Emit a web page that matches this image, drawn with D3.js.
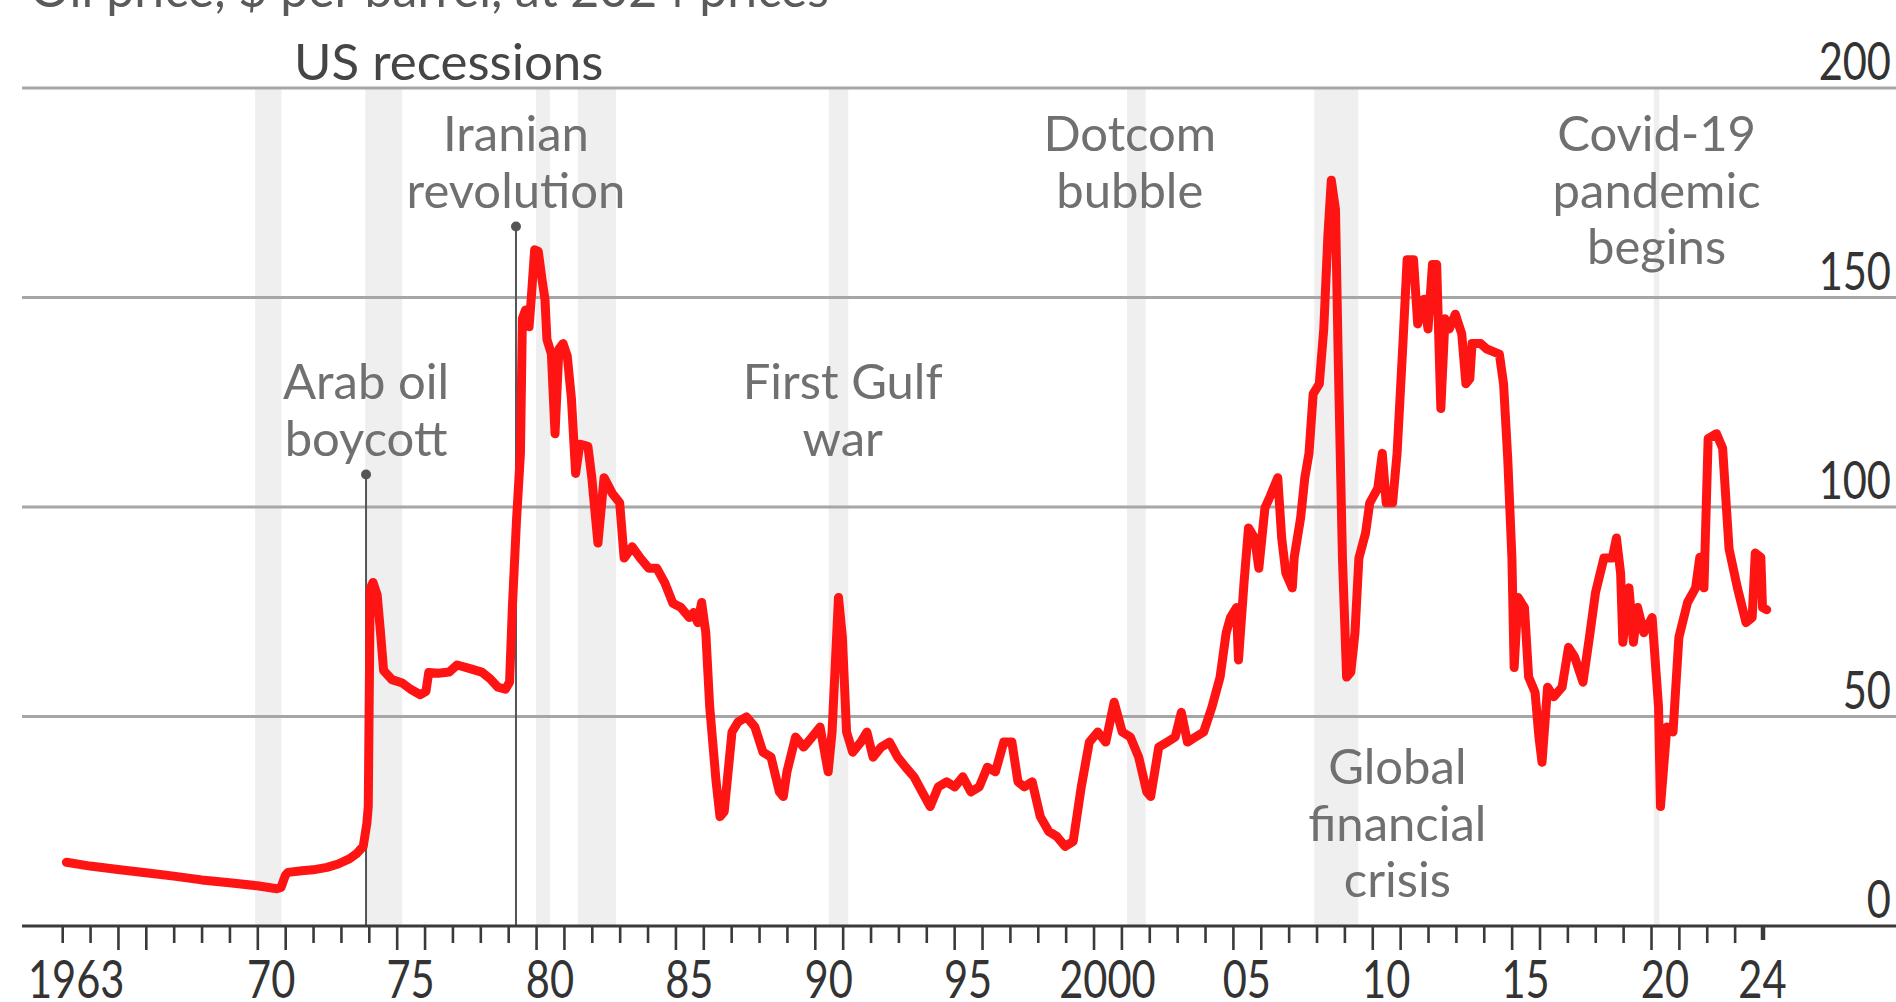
<!DOCTYPE html>
<html>
<head>
<meta charset="utf-8">
<script src="https://cdn.jsdelivr.net/npm/d3@7"></script>
<style>
  html, body { margin: 0; padding: 0; background: #ffffff; }
  svg { display: block; }
</style>
</head>
<body>
<svg id="chart" width="1896" height="1002"></svg>
<script>
// Oil price, $ per barrel (real terms), sampled at decimal-year dates
const years = [
  1963.15, 1964.0, 1965.0, 1966.0, 1967.0, 1968.0, 1969.0, 1970.0, 1970.7, 1970.85,
  1971.0, 1971.1, 1971.6, 1972.0, 1972.5, 1972.9, 1973.3, 1973.55, 1973.8, 1973.93,
  1973.98, 1974.05, 1974.15, 1974.3, 1974.42, 1974.53, 1974.83, 1975.2, 1975.5, 1975.85,
  1976.05, 1976.15, 1976.5, 1976.88, 1977.17, 1977.6, 1978.05, 1978.35, 1978.63, 1978.9,
  1979.05, 1979.15, 1979.3, 1979.44, 1979.51, 1979.62, 1979.75, 1979.83, 1979.95, 1980.08,
  1980.22, 1980.32, 1980.39, 1980.55, 1980.68, 1980.82, 1980.97, 1981.12, 1981.27, 1981.42,
  1981.57, 1981.86, 1982.0, 1982.22, 1982.44, 1982.73, 1983.0, 1983.16, 1983.45, 1983.74,
  1984.04, 1984.33, 1984.62, 1984.91, 1985.2, 1985.5, 1985.65, 1985.8, 1985.94, 1986.09,
  1986.23, 1986.46, 1986.6, 1986.75, 1986.89, 1987.03, 1987.25, 1987.55, 1987.85, 1988.14,
  1988.43, 1988.73, 1988.87, 1989.0, 1989.31, 1989.6, 1989.9, 1990.19, 1990.48, 1990.62,
  1990.85, 1990.99, 1991.14, 1991.36, 1991.65, 1991.87, 1992.09, 1992.38, 1992.68, 1992.97,
  1993.26, 1993.56, 1993.85, 1994.14, 1994.43, 1994.73, 1995.02, 1995.31, 1995.6, 1995.9,
  1996.19, 1996.48, 1996.78, 1997.07, 1997.29, 1997.51, 1997.8, 1998.09, 1998.39, 1998.68,
  1998.98, 1999.27, 1999.56, 1999.85, 2000.15, 2000.44, 2000.74, 2001.03, 2001.32, 2001.62,
  2001.91, 2002.05, 2002.34, 2002.64, 2002.93, 2003.15, 2003.37, 2003.66, 2003.95, 2004.25,
  2004.54, 2004.76, 2004.91, 2005.13, 2005.2, 2005.4, 2005.56, 2005.78, 2005.93, 2006.15,
  2006.3, 2006.61, 2006.75, 2006.9, 2007.13, 2007.2, 2007.43, 2007.58, 2007.73, 2007.88,
  2008.1, 2008.26, 2008.41, 2008.53, 2008.68, 2008.78, 2008.93, 2009.08, 2009.23, 2009.38,
  2009.52, 2009.76, 2009.91, 2010.2, 2010.36, 2010.5, 2010.73, 2010.89, 2011.1, 2011.25,
  2011.48, 2011.63, 2011.86, 2012.0, 2012.16, 2012.31, 2012.46, 2012.61, 2012.76, 2012.98,
  2013.21, 2013.36, 2013.5, 2013.58, 2013.89, 2014.11, 2014.56, 2014.71, 2014.86, 2015.01,
  2015.09, 2015.23, 2015.46, 2015.61, 2015.84, 2015.98, 2016.09, 2016.29, 2016.51, 2016.81,
  2017.04, 2017.26, 2017.56, 2017.79, 2018.01, 2018.31, 2018.61, 2018.76, 2018.91, 2018.99,
  2019.21, 2019.37, 2019.52, 2019.74, 2020.04, 2020.27, 2020.34, 2020.57, 2020.79, 2021.0,
  2021.31, 2021.6, 2021.75, 2021.9, 2022.05, 2022.35, 2022.57, 2022.8, 2023.1, 2023.41,
  2023.63, 2023.74, 2023.94, 2024.0, 2024.15
];
const prices = [
  15.2, 14.3, 13.5, 12.7, 11.9, 11.0, 10.3, 9.6, 8.9, 9.2,
  12.0, 12.8, 13.2, 13.4, 14.0, 14.8, 16.0, 17.2, 19.0, 24.5,
  28.5, 80.5, 82.0, 79.0, 70.0, 61.0, 58.8, 58.0, 56.5, 55.2,
  56.0, 60.5, 60.3, 60.6, 62.3, 61.5, 60.6, 59.0, 57.0, 56.5,
  58.2, 76.0, 97.0, 112.8, 145.0, 147.0, 143.0, 150.0, 161.4, 161.0,
  154.0, 149.6, 140.0, 136.5, 117.5, 137.7, 139.0, 136.0, 125.8, 108.0,
  115.0, 114.5, 107.0, 91.4, 107.0, 103.3, 101.0, 87.8, 90.5, 87.8,
  85.4, 85.4, 81.9, 77.0, 76.0, 73.6, 74.8, 72.4, 77.2, 70.0,
  52.3, 34.4, 26.1, 27.3, 36.8, 46.3, 48.7, 49.9, 47.5, 41.5,
  40.3, 32.0, 30.9, 36.8, 45.1, 42.7, 45.1, 47.5, 36.8, 46.3,
  78.4, 68.9, 46.3, 41.5, 43.9, 46.3, 40.3, 42.7, 43.9, 40.3,
  37.9, 35.6, 32.0, 28.5, 33.2, 34.4, 33.2, 35.6, 32.0, 33.2,
  37.9, 36.8, 43.9, 43.9, 34.4, 33.2, 34.4, 26.1, 22.6, 21.4,
  19.0, 20.2, 33.2, 43.9, 46.3, 43.9, 53.4, 46.3, 45.1, 40.3,
  32.0, 30.9, 42.7, 43.9, 45.1, 51.0, 43.9, 45.1, 46.3, 52.3,
  59.4, 70.0, 73.6, 76.0, 63.5, 82.0, 95.0, 92.6, 85.4, 99.8,
  102.0, 107.0, 92.6, 84.2, 80.7, 88.0, 97.4, 107.0, 112.8, 127.0,
  129.4, 142.5, 165.0, 178.0, 171.0, 135.0, 87.8, 59.4, 60.6, 70.0,
  87.8, 93.8, 101.0, 104.5, 112.8, 101.0, 101.0, 112.8, 139.0, 159.0,
  159.0, 143.7, 149.6, 142.5, 157.9, 157.9, 123.5, 144.9, 142.5, 146.0,
  141.3, 129.4, 130.6, 139.0, 139.0, 137.7, 136.5, 129.4, 111.6, 87.8,
  61.7, 78.4, 76.0, 59.4, 55.8, 45.1, 39.1, 57.0, 54.7, 57.0,
  66.5, 64.2, 58.2, 68.9, 79.6, 87.8, 87.8, 92.6, 84.2, 67.7,
  80.7, 67.7, 76.0, 70.0, 73.6, 52.3, 28.5, 47.5, 46.3, 68.9,
  77.2, 80.7, 88.0, 80.7, 116.3, 117.5, 114.0, 90.0, 80.7, 72.4,
  73.6, 89.0, 88.0, 76.0, 75.5
];

// US recessions (NBER), decimal years
const recessionStart = [1969.92, 1973.87, 1980.0, 1981.5, 1990.5, 2001.2, 2007.92, 2020.1];
const recessionEnd   = [1970.87, 1975.2, 1980.5, 1982.87, 1991.2, 2001.87, 2009.5, 2020.3];

// Event annotations (text lines, the date each block is centred on, whether it has a pointer)
const eventLabels = [
  ["Arab oil", "boycott"],
  ["Iranian", "revolution"],
  ["First Gulf", "war"],
  ["Dotcom", "bubble"],
  ["Global", "financial", "crisis"],
  ["Covid-19", "pandemic", "begins"]
];
const eventYears    = [1973.9, 1979.28, 1991.0, 2001.3, 2010.9, 2020.2];
const eventPointer  = [true, true, false, false, false, false];
const eventBaseline = [399, 151, 399, 151, 784, 151];

// Axis ticks
const yTicks = [0, 50, 100, 150, 200];
const xLabelYears = [1963, 1970, 1975, 1980, 1985, 1990, 1995, 2000, 2005, 2010, 2015, 2020, 2024];
const xLabelText  = ["1963", "70", "75", "80", "85", "90", "95", "2000", "05", "10", "15", "20", "24"];

const W = 1896, H = 1002;
const svg = d3.select("#chart");

const x = d3.scaleLinear().domain([1963, 2024]).range([62.2, 1762.5]);
const y = d3.scaleLinear().domain([0, 200]).range([926, 88]);

const plotLeft = 22, plotRight = W;
const labelFont = "Lato, 'Open Sans', sans-serif";
const numFont = "Lato, sans-serif";
const numSquash = 0.8;   // narrow figures for the axis numbers

// Cut-off subtitle at the very top
svg.append("text")
  .attr("x", 30).attr("y", 7)
  .attr("font-family", labelFont).attr("font-size", 50)
  .attr("fill", "#5a5a5a")
  .text("Oil price, $ per barrel, at 2024 prices");

// Recession shading
svg.append("g").selectAll("rect")
  .data(recessionStart.map((s, i) => [s, recessionEnd[i]]))
  .join("rect")
  .attr("x", d => x(d[0]))
  .attr("width", d => x(d[1]) - x(d[0]))
  .attr("y", y(200))
  .attr("height", y(0) - y(200))
  .attr("fill", "#efefef");

svg.append("text")
  .attr("x", 294).attr("y", 80)
  .attr("font-family", labelFont).attr("font-size", 51)
  .attr("fill", "#454545")
  .text("US recessions");

// Horizontal gridlines
svg.append("g").selectAll("line")
  .data(yTicks.filter(v => v > 0))
  .join("line")
  .attr("x1", plotLeft).attr("x2", plotRight)
  .attr("y1", d => y(d)).attr("y2", d => y(d))
  .attr("stroke", "#a6a6a6").attr("stroke-width", 3);

// Right-hand value labels
svg.append("g").selectAll("text")
  .data(yTicks)
  .join("text")
  .attr("transform", d => `translate(1891,${y(d) - 8}) scale(${numSquash},1)`)
  .attr("text-anchor", "end")
  .attr("font-family", numFont).attr("font-size", 52)
  .attr("fill", "#333")
  .text(d => d);

// Event annotations
const ev = svg.append("g");
eventLabels.forEach((lines, i) => {
  const cx = x(eventYears[i]);
  const base = eventBaseline[i];
  const t = ev.append("text")
    .attr("font-family", labelFont).attr("font-size", 49)
    .attr("fill", "#707070")
    .attr("text-anchor", "middle");
  lines.forEach((ln, j) => {
    t.append("tspan").attr("x", cx).attr("y", base + j * 56.5).text(ln);
  });
  if (eventPointer[i]) {
    const dotY = base + (lines.length - 1) * 56.5 + 19;
    ev.append("line")
      .attr("x1", cx).attr("x2", cx)
      .attr("y1", dotY).attr("y2", y(0))
      .attr("stroke", "#555").attr("stroke-width", 2);
    ev.append("circle")
      .attr("cx", cx).attr("cy", dotY).attr("r", 5)
      .attr("fill", "#555");
  }
});

// Price line
const series = years.map((yr, i) => ({ yr, v: prices[i] }));
svg.append("path")
  .datum(series)
  .attr("fill", "none")
  .attr("stroke", "#ff1414")
  .attr("stroke-width", 9)
  .attr("stroke-linejoin", "round")
  .attr("stroke-linecap", "round")
  .attr("d", d3.line().x(d => x(d.yr)).y(d => y(d.v)));

// Baseline axis
svg.append("line")
  .attr("x1", plotLeft).attr("x2", plotRight)
  .attr("y1", y(0)).attr("y2", y(0))
  .attr("stroke", "#3a3a3a").attr("stroke-width", 3);

// Year ticks: long ones flank each fifth year
const tickYears = d3.range(1963, 2025);
const xAxis = d3.axisBottom(x)
  .tickValues(tickYears)
  .tickSize(17)
  .tickFormat("");
const axisG = svg.append("g")
  .attr("transform", `translate(0,${y(0)})`)
  .call(xAxis);
axisG.select(".domain").remove();
axisG.selectAll(".tick line")
  .attr("stroke", "#3a3a3a")
  .attr("stroke-width", d => d === 2024 ? 4.5 : 2.6)
  .attr("y2", d => d === 2024 ? 14 : ((d % 5 === 0 || d % 5 === 1) ? 24 : 17));

// Year labels, centred on each labelled year
svg.append("g").selectAll("text")
  .data(xLabelYears)
  .join("text")
  .attr("transform", d => `translate(${d === 2024 ? x(d) : x(d + 0.5)},998) scale(${numSquash},1)`)
  .attr("text-anchor", "middle")
  .attr("font-family", numFont).attr("font-size", 52)
  .attr("fill", "#333")
  .text((d, i) => xLabelText[i]);
</script>
</body>
</html>
